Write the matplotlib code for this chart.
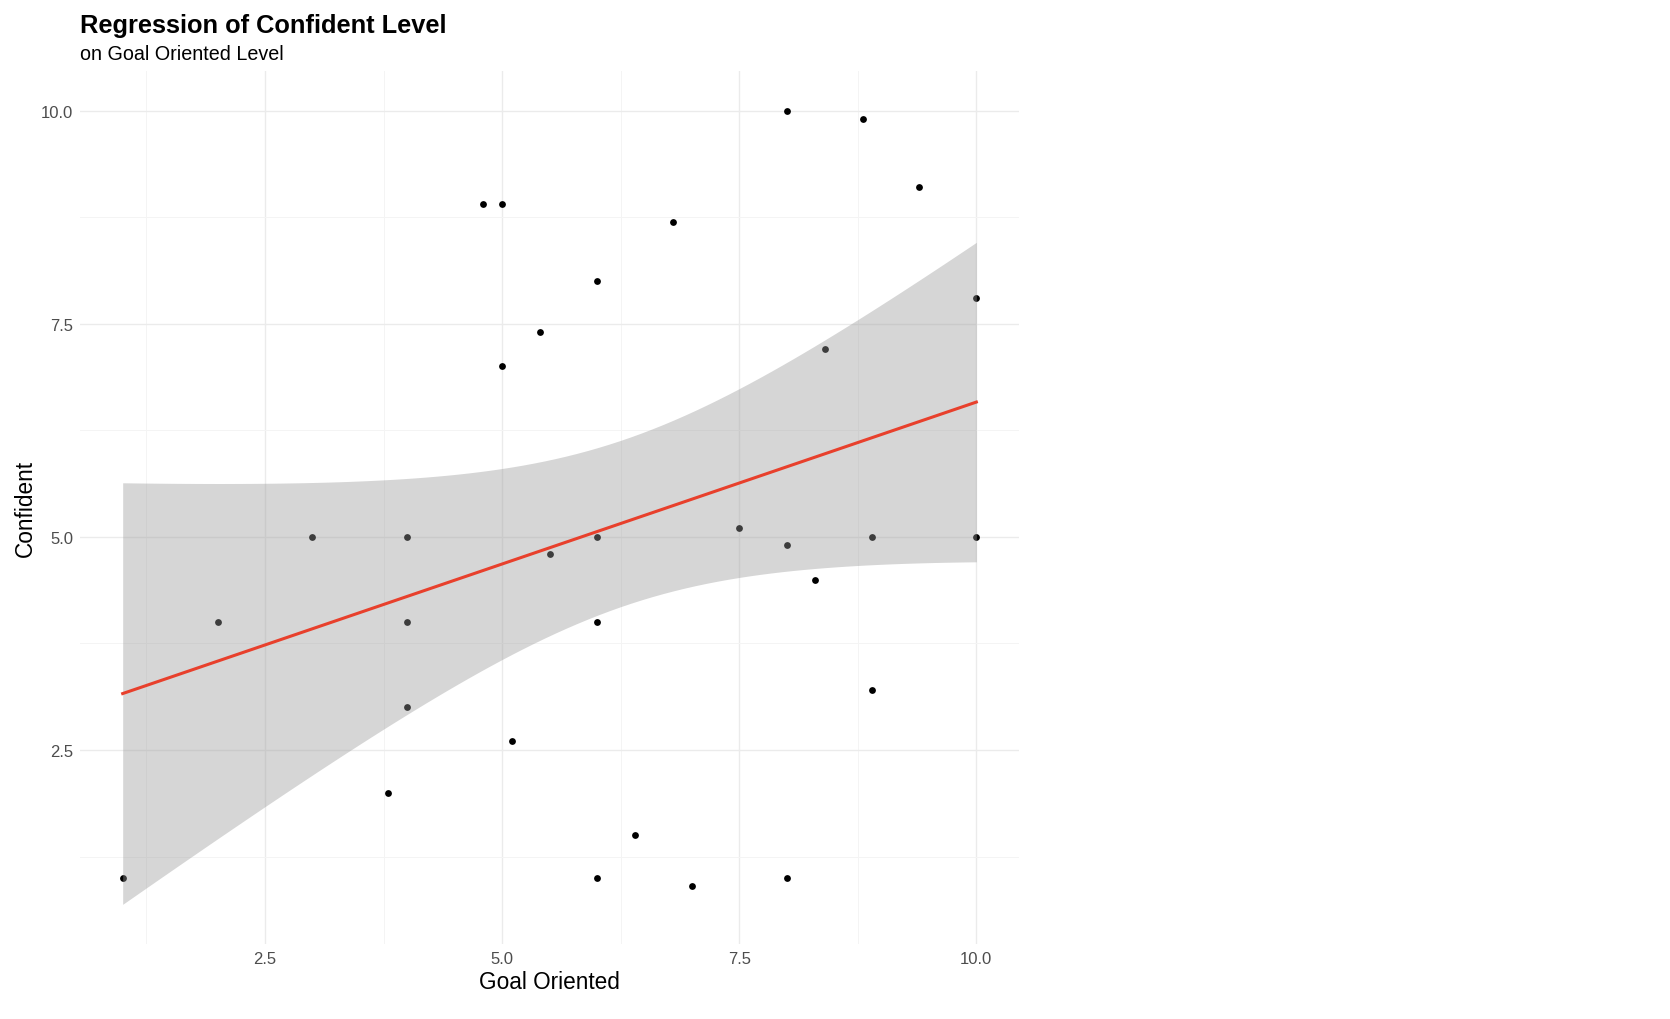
import numpy as np
import matplotlib
matplotlib.use("Agg")
import matplotlib.pyplot as plt
from matplotlib.ticker import MultipleLocator

plt.rcParams['font.family'] = ['Liberation Sans', 'DejaVu Sans']

# data
goal = [1, 2, 3, 4, 4, 4, 3.8, 4.8, 5, 5, 5.1, 5.4, 5.5, 6, 6, 6, 6, 6.4,
        6.8, 7, 7.5, 8, 8, 8, 8.3, 8.4, 8.8, 8.9, 8.9, 9.4, 10, 10]
confident = [1, 4, 5, 5, 4, 3, 2, 8.9, 8.9, 7, 2.6, 7.4, 4.8, 8, 5, 4, 1, 1.5,
             8.7, 0.9, 5.1, 10, 4.9, 1, 4.5, 7.2, 9.9, 5, 3.2, 9.1, 7.8, 5]

title = "Regression of Confident Level"
subtitle = "on Goal Oriented Level"
xlab = "Goal Oriented"
ylab = "Confident"

x = np.array(goal, dtype=float)
y = np.array(confident, dtype=float)
n = len(x)

# linear fit + 95% confidence band (like geom_smooth(method="lm"))
slope, intercept = np.polyfit(x, y, 1)
xs = np.linspace(x.min(), x.max(), 80)
fit = intercept + slope * xs
resid = y - (intercept + slope * x)
s = np.sqrt(np.sum(resid ** 2) / (n - 2))
sxx = np.sum((x - x.mean()) ** 2)
tcrit = 2.042  # t(0.975, df=30)
se = s * np.sqrt(1 / n + (xs - x.mean()) ** 2 / sxx)
lo = fit - tcrit * se
hi = fit + tcrit * se

fig = plt.figure(figsize=(16.7, 10.2), dpi=100)
ax = fig.add_axes([0.0479, 0.0735, 0.5623, 0.8559])

ax.scatter(x, y, s=24, color='black', linewidths=0, zorder=2)
ax.fill_between(xs, lo, hi, color='#999999', alpha=0.4, linewidth=0, zorder=3)
ax.plot(xs, fit, color='#E8402C', linewidth=2.2, zorder=4)

# limits trained on points and ribbon, with 5% padding (ggplot style)
xmin, xmax = x.min(), x.max()
ymin, ymax = min(y.min(), lo.min()), max(y.max(), hi.max())
ax.set_xlim(xmin - 0.05 * (xmax - xmin), xmax + 0.05 * (xmax - xmin))
ax.set_ylim(ymin - 0.05 * (ymax - ymin), ymax + 0.05 * (ymax - ymin))

ax.xaxis.set_major_locator(MultipleLocator(2.5))
ax.yaxis.set_major_locator(MultipleLocator(2.5))
ax.xaxis.set_minor_locator(MultipleLocator(1.25))
ax.yaxis.set_minor_locator(MultipleLocator(1.25))
ax.xaxis.set_major_formatter(lambda v, p: f"{v:.1f}")
ax.yaxis.set_major_formatter(lambda v, p: f"{v:.1f}")

ax.grid(which='major', color='#EBEBEB', linewidth=1.0, zorder=0)
ax.grid(which='minor', color='#F4F4F4', linewidth=0.7, zorder=0)
ax.set_axisbelow(True)
for sp in ax.spines.values():
    sp.set_visible(False)
ax.tick_params(which='both', length=0)
ax.tick_params(labelsize=12, labelcolor='#4D4D4D', pad=5)

ax.set_xlabel(xlab, fontsize=16.3, labelpad=3)
ax.set_ylabel(ylab, fontsize=16.3, labelpad=3)

fig.text(0.0479, 0.968, title, fontsize=18.3, fontweight='bold', ha='left', va='baseline')
fig.text(0.0479, 0.941, subtitle, fontsize=14.2, ha='left', va='baseline')

fig.savefig('out.png', dpi=100, facecolor='white')
